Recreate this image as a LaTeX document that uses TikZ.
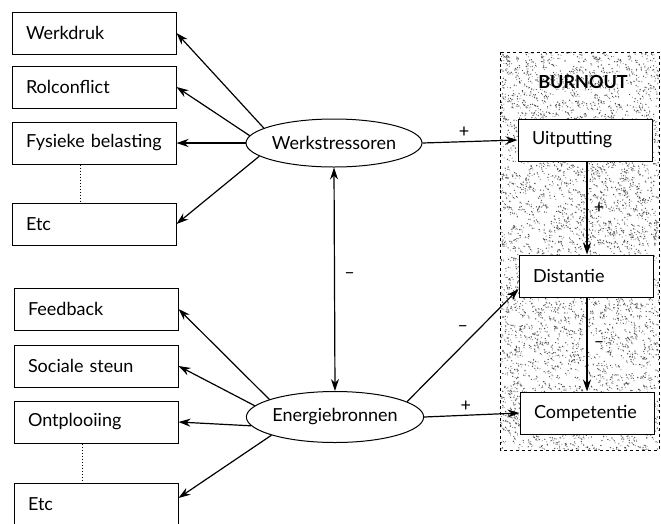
\documentclass[tikz,border=0pt]{standalone}
\usepackage{fontspec}
\setmainfont{Lato}
\usetikzlibrary{arrows.meta,shapes.geometric,calc}

\tikzset{
  factor/.style={draw,line width=1pt,minimum height=42pt,text width=136pt,inner xsep=14pt,align=left},
  dimbox/.style={draw,fill=white,line width=1pt,minimum height=42pt,text width=106pt,inner xsep=14pt,align=left},
  construct/.style={draw,ellipse,line width=1pt,minimum width=176pt,minimum height=48pt,inner sep=0pt},
  link/.style={line width=1.2pt,-{Stealth[length=12pt,width=8pt]}},
  sign/.style={font=\fontsize{18}{20}\selectfont}
}

\begin{document}
\begin{tikzpicture}[x=1pt,y=-1pt,every node/.style={font=\fontsize{18}{21}\selectfont}]
    \useasboundingbox (0,0) rectangle (661,523);
    \clip (0,0) rectangle (661,523);
    % burnout frame with stipple
    \pgfmathsetseed{11}
    \begin{scope}
      \clip (500,52) rectangle (659,450);
      \foreach \i in {1,...,3000} {
        \fill[black!70] (500+159*rnd,52+398*rnd) coordinate (s) circle (0.7pt);
        \fill[black!45] ($(s)+(3*rnd,3*rnd)$) circle (0.6pt);
      }
    \end{scope}
    \draw[dashed,line width=1pt] (500,52) rectangle (659,450);
    \node[font=\fontsize{18}{21}\selectfont\bfseries] (bo) at (583,82) {BURNOUT};
    % stressors
    \node[factor] (wd) at (94,33) {Werkdruk};
    \node[factor] (rc) at (94,87) {Rolconflict};
    \node[factor] (fys) at (94,143) {Fysieke belasting};
    \node[factor] (etcA) at (94,224) {Etc};
    % resources
    \node[factor] (fbk) at (96,309) {Feedback};
    \node[factor] (ss) at (96,366) {Sociale steun};
    \node[factor] (op) at (96,422) {Ontplooiing};
    \node[factor] (etcB) at (96,504) {Etc};
    \node[construct] (ws) at (334,143) {Werkstressoren};
    \node[construct,minimum height=51pt] (eb) at (335,417) {Energiebronnen};
    % burnout dimensions
    \node[dimbox] (uit) at (585,140) {Uitputting};
    \node[dimbox] (dis) at (586,276) {Distantie};
    \node[dimbox] (comp) at (587,413) {Competentie};
    \draw[dotted,line width=1pt] ([xshift=-14pt]fys.south) -- ([xshift=-14pt]etcA.north);
    \draw[dotted,line width=1pt] ([xshift=-14pt]op.south) -- ([xshift=-14pt]etcB.north);
    \draw[link] (ws.168) -- (wd.east);
    \draw[link] (ws.175) -- (rc.east);
    \draw[link] (ws.west) -- (fys.east);
    \draw[link] (ws.190) -- (etcA.east);
    \draw[link] (eb.165) -- (fbk.east);
    \draw[link] (eb.172) -- (ss.east);
    \draw[link] (eb.186) -- (op.east);
    \draw[link] (eb.196) -- ([yshift=6pt]etcB.east);
    \draw[link,{Stealth[length=12pt,width=8pt]}-{Stealth[length=12pt,width=8pt]}] (ws.south) -- (eb.north)
      node[sign,midway,right=6pt,yshift=4pt] (mA) {--};
    \draw[link] (ws.east) -- (uit.west) node[sign,midway,above,xshift=-6pt] (pA) {+};
    \draw[link] (eb.east) -- (comp.west) node[sign,midway,above,xshift=-6pt] (pB) {+};
    \draw[link] (eb.12) -- ([yshift=-13pt]dis.west) node[sign,midway,above=10pt] (mB) {--};
    \draw[link] (uit.south -| 587,0) -- (dis.north -| 587,0) node[sign,midway,right=3pt] (pC) {+};
    \draw[link] (dis.south -| 587,0) -- (comp.north -| 587,0) node[sign,midway,right=3pt] (mC) {--};
\end{tikzpicture}
\end{document}
